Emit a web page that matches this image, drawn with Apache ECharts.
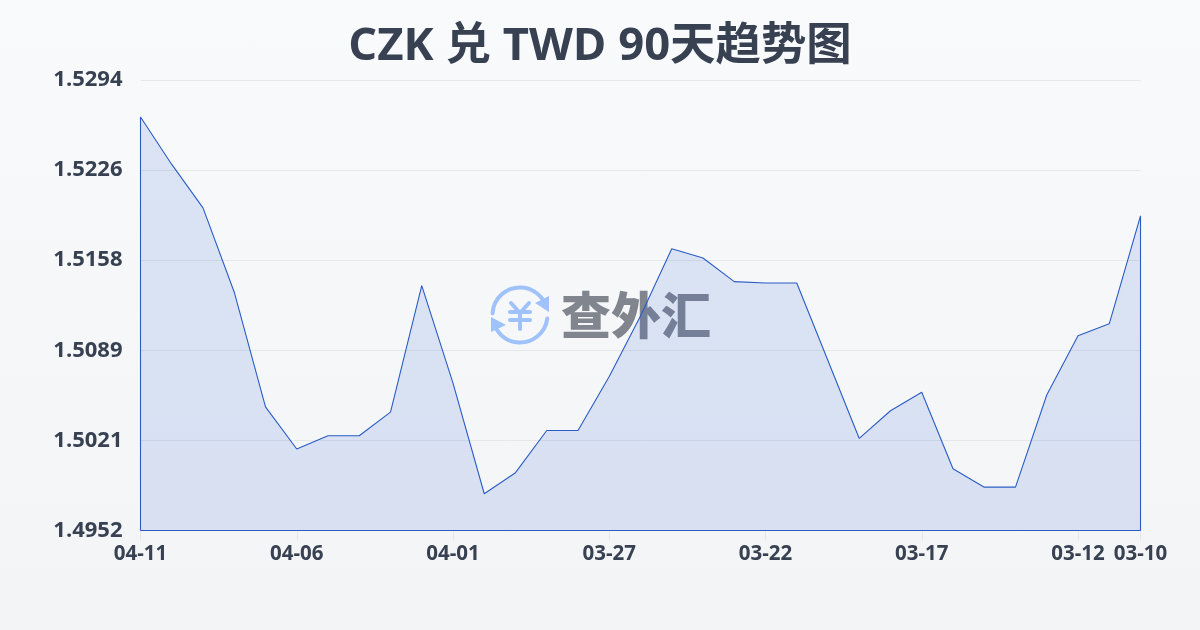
<!DOCTYPE html>
<html><head><meta charset="utf-8">
<style>html,body{margin:0;padding:0;width:1200px;height:630px;overflow:hidden;background:linear-gradient(180deg,#f8fafc,#f3f4f6)}#c{width:1200px;height:630px}</style>
<script src="https://cdn.jsdelivr.net/npm/echarts@6/dist/echarts.min.js"></script>
</head><body><div id="c"></div>
<script>
const titleText = 'CZK 兑 TWD 90天趋势图';
const categories = ['04-11','04-10','04-09','04-08','04-07','04-06','04-05','04-04','04-03','04-02','04-01','03-31','03-30','03-29','03-28','03-27','03-26','03-25','03-24','03-23','03-22','03-21','03-20','03-19','03-18','03-17','03-16','03-15','03-14','03-13','03-12','03-11','03-10'];
const rates = [1.52663,1.52303,1.51973,1.51333,1.50463,1.50143,1.50243,1.50243,1.50423,1.51383,1.50643,1.49803,1.49963,1.50283,1.50283,1.50693,1.51153,1.51663,1.51593,1.51413,1.51403,1.51403,1.50813,1.50223,1.50433,1.50573,1.49993,1.49853,1.49853,1.50553,1.51003,1.51093,1.51913];
const yTicks = [1.49524,1.50208,1.50892,1.51576,1.5226,1.52944];
const xLabelIndexes = [0,5,10,15,20,25,30,32];
const yMin = yTicks[0], yMax = yTicks[yTicks.length-1];
const INK = '#374151', LINE = '#2a5cc6';

// outline runs down both edges and along the base
const outline = [[categories[0],yMin]]
  .concat(categories.map((c,i)=>[c,rates[i]]))
  .concat([[categories[categories.length-1],yMin],[categories[0],yMin]]);

const icon = '#9fc2fa';
const stroke = {stroke:icon,lineWidth:4,lineCap:'round',fill:'none',lineJoin:'round'};
const chart = echarts.init(document.getElementById('c'),null,{renderer:'canvas'});
chart.setOption({
  animation:false,
  backgroundColor:'transparent',
  title:{text:titleText,left:'center',top:19,textStyle:{color:INK,fontSize:45.4,fontWeight:'bold',fontFamily:'"Open Sans","Noto Sans CJK SC",sans-serif'}},
  grid:{left:140.5,right:59.5,top:80,bottom:99.5},
  xAxis:{type:'category',data:categories,boundaryGap:false,
    axisLine:{show:false},
    axisTick:{show:true,length:10,lineStyle:{color:'#e5e7eb'},customValues:xLabelIndexes},
    axisLabel:{color:INK,fontSize:20.5,fontWeight:'bold',margin:13,fontFamily:'"Open Sans","Noto Sans CJK SC",sans-serif',customValues:xLabelIndexes,hideOverlap:false,showMinLabel:true,showMaxLabel:true},
    splitLine:{show:false}},
  yAxis:{type:'value',min:yMin,max:yMax,
    axisLine:{show:false},axisTick:{show:false,customValues:yTicks},
    axisLabel:{color:INK,fontSize:22,fontWeight:'bold',margin:18,fontFamily:'"Open Sans","Noto Sans CJK SC",sans-serif',customValues:yTicks,formatter:v=>v.toFixed(4)},
    splitLine:{show:true,lineStyle:{color:'#e5e7eb',width:1},customValues:yTicks}},
  graphic:[
    {type:'group',z:0,silent:true,children:[
      {type:'arc',shape:{cx:520,cy:315,r:27.5,startAngle:Math.PI*1.02,endAngle:Math.PI*1.9,clockwise:true},style:stroke},
      {type:'arc',shape:{cx:520,cy:315,r:27.5,startAngle:Math.PI*0.04,endAngle:Math.PI*0.92,clockwise:true},style:stroke},
      {type:'polygon',shape:{points:[[549,296],[549,312],[535,303]]},style:{fill:icon}},
      {type:'polygon',shape:{points:[[491,317],[491,332],[506,325]]},style:{fill:icon}},
      {type:'polyline',shape:{points:[[511,303],[520,313],[529,303]]},style:stroke},
      {type:'line',shape:{x1:510,y1:312,x2:530,y2:312},style:stroke},
      {type:'line',shape:{x1:510,y1:320,x2:530,y2:320},style:stroke},
      {type:'line',shape:{x1:520,y1:313,x2:520,y2:329},style:stroke},
      {type:'text',x:636,y:315,style:{text:'查外汇',align:'center',verticalAlign:'middle',fill:'#80858e',fontSize:50,fontWeight:900,fontFamily:'"Noto Sans CJK SC",sans-serif'}}
    ]}
  ],
  series:[{type:'line',data:outline,symbol:'none',smooth:false,
    lineStyle:{color:LINE,width:1.1},
    areaStyle:{origin:'start',color:'rgba(50,100,215,0.2)'},z:3}]
});
</script></body></html>
